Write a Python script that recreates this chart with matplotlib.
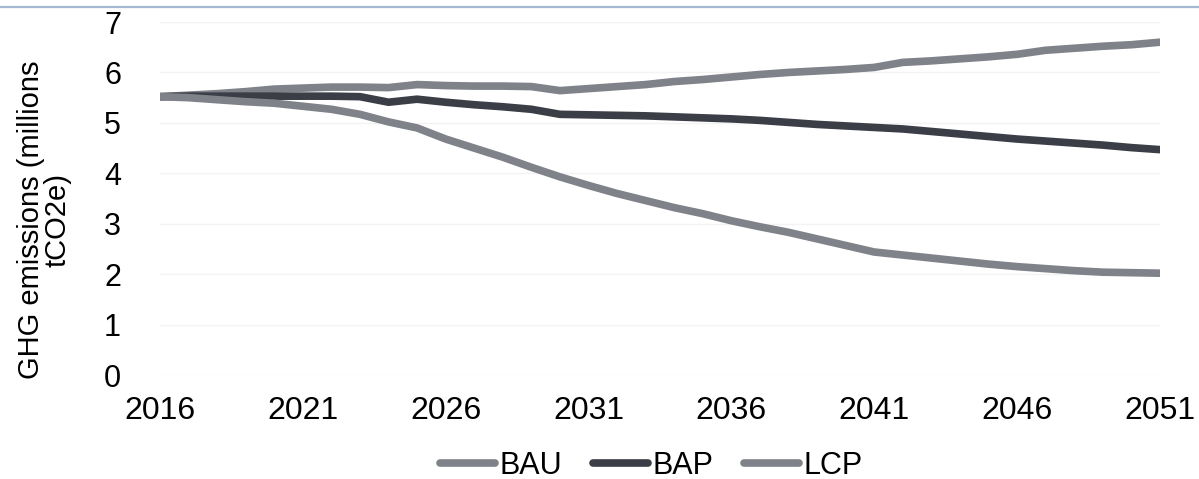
import numpy as np
import matplotlib
matplotlib.use('Agg')
import matplotlib.pyplot as plt
from matplotlib.lines import Line2D

plt.rcParams['font.family'] = ['Liberation Sans', 'DejaVu Sans']

years = list(range(2016, 2052))
tick_years = list(range(2016, 2052, 5))

# scenario emissions, millions tCO2e
bau = [5.52, 5.55, 5.58, 5.62, 5.67, 5.69, 5.71, 5.71, 5.70, 5.76,
       5.74, 5.73, 5.73, 5.72, 5.64, 5.68, 5.72, 5.76, 5.82, 5.86,
       5.91, 5.96, 6.00, 6.03, 6.06, 6.10, 6.20, 6.23, 6.27, 6.31,
       6.36, 6.44, 6.48, 6.52, 6.55, 6.60]
bap = [5.52, 5.53, 5.53, 5.53, 5.53, 5.53, 5.53, 5.52, 5.41, 5.47,
       5.41, 5.36, 5.32, 5.27, 5.17, 5.16, 5.15, 5.14, 5.12, 5.10,
       5.08, 5.05, 5.01, 4.97, 4.94, 4.91, 4.88, 4.83, 4.78, 4.73,
       4.68, 4.64, 4.60, 4.56, 4.51, 4.47]
lcp = [5.52, 5.50, 5.46, 5.42, 5.39, 5.33, 5.27, 5.17, 5.02, 4.90,
       4.68, 4.50, 4.32, 4.12, 3.93, 3.76, 3.60, 3.46, 3.32, 3.20,
       3.06, 2.94, 2.83, 2.70, 2.57, 2.44, 2.38, 2.32, 2.26, 2.20,
       2.15, 2.11, 2.07, 2.04, 2.03, 2.02]

light = '#80828a'
dark = '#3b3e47'

fig = plt.figure(figsize=(11.99, 4.79), dpi=100)
ax = fig.add_axes([0.1334, 0.217, 0.834, 0.737])

kw = dict(lw=5.5, solid_capstyle='round', solid_joinstyle='round')
ax.plot(years, bau, color=light, label='BAU', **kw)
ax.plot(years, bap, color=dark, label='BAP', **kw)
ax.plot(years, lcp, color=light, label='LCP', **kw)

ax.set_xlim(2016, 2051)
ax.set_ylim(0, 7)
ax.set_xticks(tick_years)
ax.set_yticks(range(0, 8))
ax.grid(axis='y', color='#f3f3f3', lw=1)
ax.set_axisbelow(True)
for s in ax.spines.values():
    s.set_visible(False)
ax.tick_params(axis='x', length=0, pad=15, labelsize=23)
ax.tick_params(axis='y', length=0, pad=28, labelsize=22)

ax.set_ylabel('GHG emissions (millions\ntCO2e)', fontsize=21, linespacing=0.95)
ax.yaxis.set_label_coords(-0.088, 0.44)

ax.legend(loc='center', bbox_to_anchor=(0.543, 0.027), bbox_transform=fig.transFigure,
          ncol=3, frameon=False, fontsize=22, handlelength=1.8, handletextpad=0.15,
          columnspacing=1.0, borderpad=0, borderaxespad=0)

# thin blue rule along the top edge
fig.add_artist(Line2D([0, 1], [1 - 7 / 479, 1 - 7 / 479], transform=fig.transFigure,
                      color='#a3bad2', lw=1.6))

fig.savefig('out.png', dpi=100)
